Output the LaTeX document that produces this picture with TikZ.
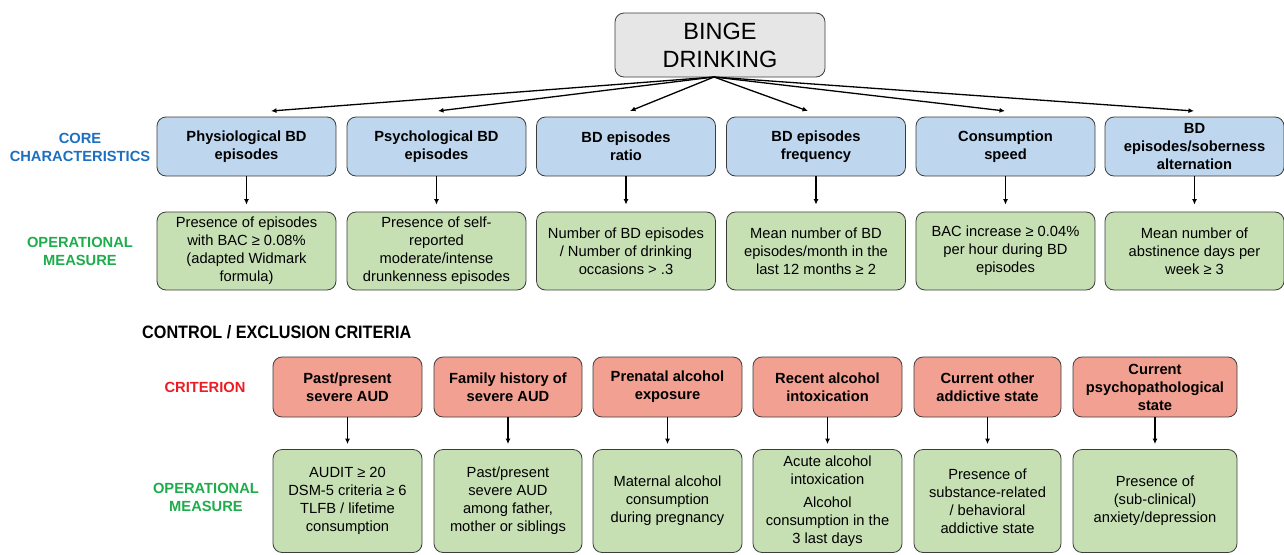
\documentclass[tikz,border=0pt]{standalone}
\usepackage{fontspec}
\setmainfont{Liberation Sans}
\usetikzlibrary{arrows.meta}
\definecolor{corefill}{RGB}{190,214,238}
\definecolor{opfill}{RGB}{198,224,180}
\definecolor{critfill}{RGB}{242,160,145}
\definecolor{titlefill}{RGB}{230,230,230}
\definecolor{edgecol}{RGB}{60,60,60}
\definecolor{lblblue}{RGB}{28,111,192}
\definecolor{lblgreen}{RGB}{30,172,76}
\definecolor{lblred}{RGB}{236,28,36}
\begin{document}
\begin{tikzpicture}[x=1pt,y=-1pt,
  box/.style={draw=edgecol, line width=0.8pt, rounded corners=9pt, align=center, inner sep=0pt},
  corebox/.style={box, fill=corefill, minimum width=179pt, minimum height=59pt, font=\fontsize{14.7}{18}\selectfont\bfseries},
  opbox/.style={box, fill=opfill, minimum width=179pt, minimum height=78pt, font=\fontsize{14.7}{18}\selectfont},
  critbox/.style={box, fill=critfill, minimum height=60pt, font=\fontsize{14.7}{18}\selectfont\bfseries},
  opbox2/.style={box, fill=opfill, minimum height=103pt, font=\fontsize{14.7}{18}\selectfont},
  rowlbl/.style={align=center, inner sep=0pt, font=\fontsize{14.7}{18}\selectfont\bfseries},
  arr/.style={-{Latex[length=5.5pt,width=5pt]}, line width=1.3pt, black},
  varr/.style={-{Latex[length=5.5pt,width=5pt]}, line width=1.2pt, black}
]
\useasboundingbox (0,0) rectangle (1284,554);

% title
\node[box, fill=titlefill, minimum width=210pt, minimum height=64pt,
      font=\fontsize{23.5}{28}\selectfont] (title) at (720,45) {BINGE\\DRINKING};
\coordinate (src) at (714,77);

% core characteristics
\node[corebox] (c1) at (246.5,146.5) {Physiological BD\\episodes};
\node[corebox] (c2) at (436.5,146.5) {Psychological BD\\episodes};
\node[corebox] (c3) at (626,146.5) {BD episodes\\ratio};
\node[corebox] (c4) at (816,146.5) {BD episodes\\frequency};
\node[corebox] (c5) at (1005.5,146.5) {Consumption\\speed};
\node[corebox] (c6) at (1194.5,146.5) {BD\\episodes/soberness\\alternation};

\coordinate (t1) at (271,111);
\coordinate (t2) at (438,111);
\coordinate (t3) at (630,111);
\coordinate (t4) at (808,111);
\coordinate (t5) at (1005,111);
\coordinate (t6) at (1194,111);
\foreach \i in {1,...,6} \draw[arr] (src) -- (t\i);

% operational measures (top)
\node[opbox] (o1) at (246.5,251) {Presence of episodes\\with BAC ≥ 0.08\%\\(adapted Widmark\\formula)};
\node[opbox] (o2) at (436.5,251) {Presence of self-\\reported\\moderate/intense\\drunkenness episodes};
\node[opbox] (o3) at (626,251) {Number of BD episodes\\/ Number of drinking\\occasions > .3};
\node[opbox] (o4) at (816,251) {Mean number of BD\\episodes/month in the\\last 12 months ≥ 2};
\node[opbox] (o5) at (1005.5,251) {BAC increase ≥ 0.04\%\\per hour during BD\\episodes};
\node[opbox] (o6) at (1194.5,251) {Mean number of\\abstinence days per\\week ≥ 3};
\foreach \i in {1,...,6} \draw[varr, shorten >=7pt] (c\i.south) -- (o\i.north);

% row labels top
\node[rowlbl, text=lblblue] (lcore) at (80,147) {CORE\\CHARACTERISTICS};
\node[rowlbl, text=lblgreen] (lop1) at (80,251) {OPERATIONAL\\MEASURE};

% control / exclusion
\node[anchor=west, inner sep=0pt, font=\fontsize{18}{20}\selectfont\bfseries] (ctitle) at (142,332) {\scalebox{0.9}[1]{CONTROL / EXCLUSION CRITERIA}};

\node[rowlbl, text=lblred] (lcrit) at (205,387) {CRITERION};
\node[rowlbl, text=lblgreen] (lop2) at (206,497) {OPERATIONAL\\MEASURE};

\node[critbox, minimum width=149pt] (r1) at (347.5,387) {Past/present\\severe AUD};
\node[critbox, minimum width=148pt] (r2) at (508,387) {Family history of\\severe AUD};
\node[critbox, minimum width=149pt] (r3) at (667.5,387) {Prenatal alcohol\\exposure};
\node[critbox, minimum width=149pt] (r4) at (827.5,387) {Recent alcohol\\intoxication};
\node[critbox, minimum width=147pt] (r5) at (987.5,387) {Current other\\addictive state};
\node[critbox, minimum width=164pt] (r6) at (1155,387) {Current\\psychopathological\\state};

\node[opbox2, minimum width=149pt] (m1) at (347.5,501) {AUDIT ≥ 20\\DSM-5 criteria ≥ 6\\TLFB / lifetime\\consumption};
\node[opbox2, minimum width=148pt] (m2) at (508,501) {Past/present\\severe AUD\\among father,\\mother or siblings};
\node[opbox2, minimum width=149pt] (m3) at (667.5,501) {Maternal alcohol\\consumption\\during pregnancy};
\node[opbox2, minimum width=149pt] (m4) at (827.5,501) {Acute alcohol\\intoxication\\[5pt]Alcohol\\consumption in the\\3 last days};
\node[opbox2, minimum width=147pt] (m5) at (987.5,501) {Presence of\\substance-related\\/ behavioral\\addictive state};
\node[opbox2, minimum width=164pt] (m6) at (1155,501) {Presence of\\(sub-clinical)\\anxiety/depression};
\foreach \i in {1,...,6} \draw[varr, shorten >=5pt] (r\i.south) -- (m\i.north);
\end{tikzpicture}
\end{document}
